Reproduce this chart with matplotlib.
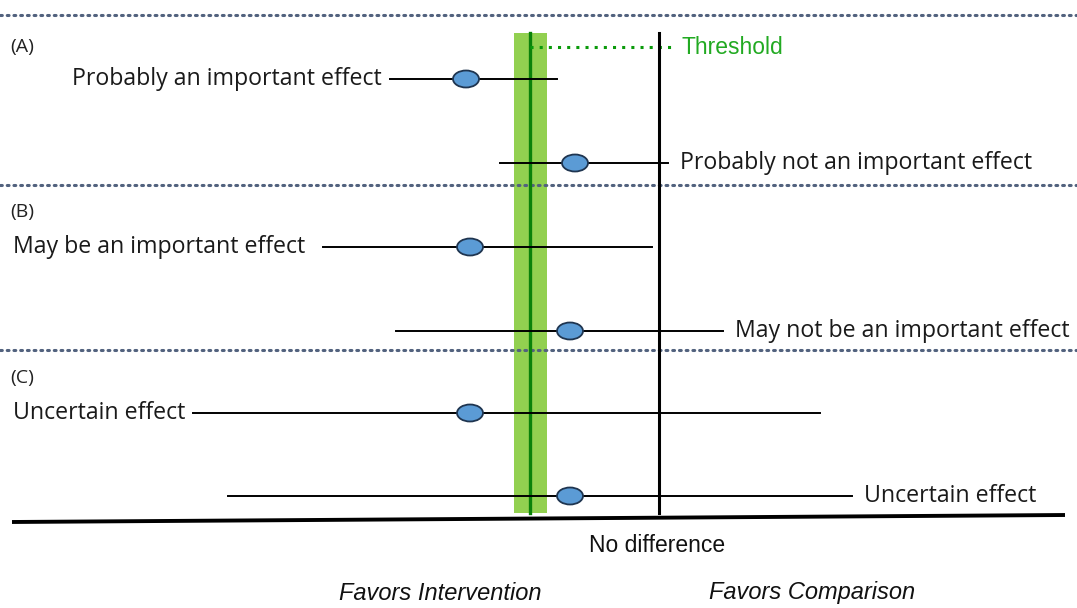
'''
Interpreting confidence intervals against a threshold
'''
import matplotlib
matplotlib.use('Agg')
import matplotlib.pyplot as plt
from matplotlib.patches import Ellipse, Rectangle

# Canvas units (pixels of the original figure)
W, H = 1077, 608

# Estimates and intervals (x positions on the effect scale)
row_y = [79, 163, 247, 331, 413, 496]
point_x = [466, 575, 470, 570, 470, 570]
lo_x = [390, 500, 323, 396, 193, 228]
hi_x = [557, 668, 652, 723, 820, 852]
labels = ['Probably an important effect', 'Probably not an important effect',
          'May be an important effect', 'May not be an important effect',
          'Uncertain effect', 'Uncertain effect']
label_side = ['left', 'right', 'left', 'right', 'left', 'right']

# Reference lines
threshold_x = 530
band_lo, band_hi = 514, 547
no_diff_x = 659
vline_top, vline_bottom = 33, 513
threshold_y = 47

# Section separators and panel letters
sep_y = [15, 185, 350]
panels = ['(A)', '(B)', '(C)']
panel_y = [47, 212, 378]

body_font = ['Open Sans', 'DejaVu Sans']
arial_font = ['Liberation Sans', 'DejaVu Sans']

fig = plt.figure(figsize=(W / 100, H / 100), dpi=100)
ax = fig.add_axes([0, 0, 1, 1])
ax.set_xlim(0, W)
ax.set_ylim(H, 0)
ax.axis('off')

# separators
for y in sep_y:
    ax.plot([0, W], [y, y], color='#52627E', lw=2.2, ls=(0, (0.6, 1.6)),
            dash_capstyle='round')

for txt, y in zip(panels, panel_y):
    ax.text(10, y, txt, family=body_font, fontsize=14, va='center', ha='left',
            color='#222222')

# threshold band and line
ax.add_patch(Rectangle((band_lo, vline_top), band_hi - band_lo,
                       vline_bottom - vline_top, color='#92D050', lw=0, zorder=1))
ax.plot([threshold_x, threshold_x], [vline_top, vline_bottom], color='#0A820A',
        lw=2.4, zorder=2)
ax.plot([threshold_x, no_diff_x + 14], [threshold_y, threshold_y], color='#0A9A0A',
        lw=2.2, ls=(0, (1, 2)), zorder=2)
ax.text(681, threshold_y + 1, 'Threshold', family=arial_font,
        fontsize=16.5, color='#22AA22', va='center', ha='left')

# no-difference line
ax.plot([no_diff_x, no_diff_x], [vline_top, vline_bottom], color='black', lw=2.2,
        zorder=3)

# intervals
for y, px, lo, hi, lab, side in zip(row_y, point_x, lo_x, hi_x, labels, label_side):
    ax.plot([lo, hi], [y, y], color='black', lw=1.4, zorder=4)
    ax.add_patch(Ellipse((px, y), 26, 17, facecolor='#5B9BD5', edgecolor='#1F3550',
                         lw=1.3, zorder=5))
    if side == 'left':
        if lab == 'Probably an important effect':
            ax.text(lo - 8, y, lab, family=body_font, fontsize=16.7, ha='right',
                    va='center', color='#1A1A1A')
        else:
            ax.text(13, y, lab, family=body_font, fontsize=16.7, ha='left',
                    va='center', color='#1A1A1A')
    else:
        ax.text(hi + 12, y, lab, family=body_font, fontsize=16.7, ha='left',
                va='center', color='#1A1A1A')

# baseline
ax.plot([12, 1065], [522, 515], color='black', lw=2.8, solid_capstyle='butt')

ax.text(657, 545, 'No difference', family=arial_font, fontsize=16.5, ha='center',
        va='center', color='#111111')
ax.text(440, 593, 'Favors Intervention', family=arial_font, fontsize=17,
        style='italic', ha='center', va='center', color='#111111')
ax.text(812, 593, 'Favors Comparison', family=arial_font, fontsize=17,
        style='italic', ha='center', va='center', color='#111111')

fig.savefig('out.png', dpi=100)
